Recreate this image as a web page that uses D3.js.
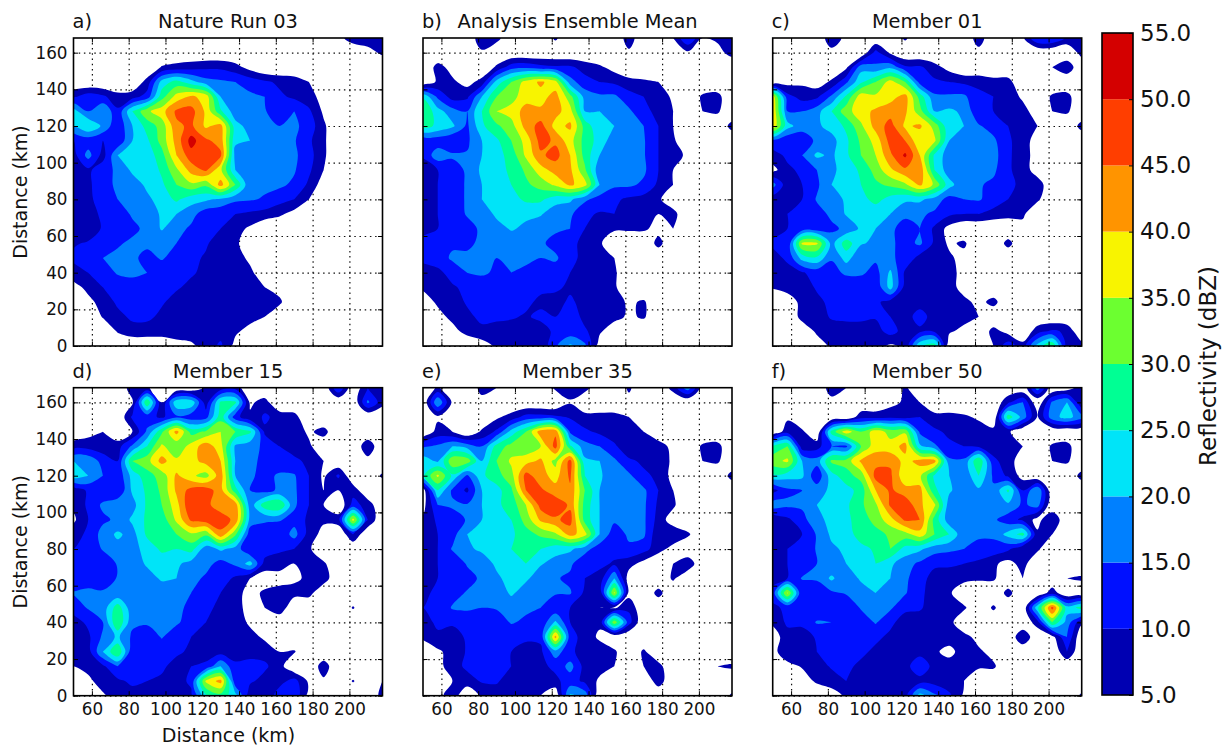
<!DOCTYPE html>
<html>
<head>
<meta charset="utf-8">
<script src="https://cdn.jsdelivr.net/npm/d3@7"></script>
<style>
  body { margin: 0; background: #fff; }
  text { font-family: "DejaVu Sans", sans-serif; fill: #111; }
</style>
</head>
<body>
<svg id="graphic" width="1228" height="749"></svg>
<script>
// reflectivity, every 8 km, rows run from y=168 down to y=0,
// columns from x=50 to x=218, cut off rows are zero on the right
const panelA = [
[0,0,0,0,0,0,0,0,0,0,0,0,0,0,0,0,0,0,3,8,8,8],
[0,0,0,0,0,0,0,0,0,0,0,0,0,0,0,0,0,0,0,0,3,6],
[0,0,0,0,0,0,5.5,7,8,9,9,7,3],
[0,0,0,0,0,7,22,27,22,17,16,15,13,11,9,8,5],
[9,13,11,7,8,12,28,37,41,38,20,17,16,15,11,9,7,3],
[22,15,20,11,25,34,38,46,47,39,26,17,16,15.5,11,15,11,4],
[20,25,19,11,20,27,32,44,46,39,42,22,18,16,15,16,13,6],
[10,12,10,11,20,24,32,42,52,46,43,21,20,16,16,15.5,11,6],
[8,17,8,20,22,22,28,40,48,47,46,18,17,16,16,16,12,6],
[6,9,13,16,21,21,26,34,42,46,36,20,17,16,16,15.5,11,5],
[6,9,13,16,17.5,21,24,30,34,31,42,30,15.5,16,16,14,9,2],
[6,9,12,15,17,19,22,26,22,21,19,16,15.5,14.5,12,10,5],
[6,8,11,13,15.5,16,21,20,17,12,11,10,9,8,6,3],
[8,7.5,10.5,12,14,16,20.5,17,14,11,10,7,4],
[9.5,10.5,12,14.5,15.8,16,16,15,12,10.5,8,6,2],
[11,11.5,15,16,16,13.5,15.5,13,11,9.5,8,7,4],
[8,10,12.5,15.5,16,15,12,11,10.5,9,8,8,6,2],
[3,6.5,10,12,13,12,11,10.5,9,8,8,8,7,5,3],
[0,3.5,7,11,11,11,10.5,8.5,8,8,8,8,8,8,6],
[0,0,5.5,8.5,11,11,9,8,8,8,8,8,7,5,1],
[0,0,0,5.5,8,8,8,7.5,7.5,8,8,6,3],
[0,0,0,0,0,0,0,3,4,7,11,3]
];
const panelB = [
[0,0,0,0,9,7,0,0,0,6,0,0,0,0,8,0,0,5,15,5,6,8],
[0,0,0,0,4,0,0,0,0,0,0,0,0,0,4,0,0,0,4,0,3,7],
[0,7,3,0,0,6,13,14,12,11,11,8,6,3],
[0,6,6,3,7,22,30,37,41,37,17,12,10,9,7,6,5],
[24,14,8,9,20,30,33,38,38,42,32,18,16,16,12,10,8,4,0,6,7],
[30,22,17,15,25,35,37,42,41,42,37,20,20,19,16,11,9,5,0,5,6],
[27,24,21,14,24,29,33,42,47,38,41,28,21,20,16,15,10,5,0,0,0,7],
[11,12,10,14,20,24,30,37,47,44,37,28,23,17,19,15.5,10,6],
[11,18,16,15.5,20,23,27,36,44,47,40,28,20,15.5,15.5,15.5,10,7,4],
[6,10,12,16,21,23,26,31,38,42,41,31,16,16,16,16,10,5],
[6,10,13,15.5,20,22,25,29,32,36,41,37,20,16,16,14,9,5],
[6,10,13,15.5,20,21,23,26,26,22,21,16,13,11,9,8,6,1],
[6,10,12,15.5,17,21,22,21,20.5,17,16,11,9.5,10,9,8,5,7],
[9,10,12,13,16,18,20.5,19,17,16,15,10,7,6,6,6,3,5],
[11,11,14,14,16,16,17,16,16,13,11,9,6,0,0,0,7],
[11,12,16,16,16,15,16,16,15,16,11,9,7,5],
[8,9,11.5,15,16,14,15,14,13,12,10,8,8,6],
[6,8,9.5,11,11,11,11,11,11,11,9,8,8,6],
[2,6,8,10.5,11,11,11,11,9,8,11,8,8,7.5,4,5.8],
[0,3,6.5,9,11,11,10.5,9.5,11,10,14,8,8,7,4,5.8],
[0,0,3,7,9,8,8,8,8,11,12,11,6,1,0,0,0,0,0,0,0,5],
[0,0,0,0,2,6,7,7,6,14,21,16,2,0,0,0,0,0,0,0,0,5]
];
const panelC = [
[0,0,0,0,9,3,0,0,0,6,0,0,0,0,8,0,0,4,15,15,9,8],
[0,0,0,0,3,0,0,12,4,0,0,0,0,0,3,0,0,0,0,0,0,7],
[0,5,0,0,0,4,18,16,19,11,11,7,3,0,0,0,0,0,0,5,9],
[0,3,4,2,6,14,24,30,37,30,13,11,10,9,9,7,7],
[38,12,8,9,16,26,38,36,38,42,28,16,16,16,11,10,8,4,0,6,7],
[40,15,15,18,25,33,38,41,43,41,32,20,21,19,11,10,9,7,2,5,6],
[39,22,17,19,22,26,34,42,47,39,41,33,21,20,15.5,13,10,7,5,0,0,7],
[13,11,12,16,18,24,31,37,47,45,36,36,20,16,19,16,11,7,3],
[8,11,15,21,19,24,30,35,44,51,40,24,17,16,16,17,11,7,3],
[3,9,11,15,19,22,26,32,39,44,44,25,17,16,16,16,11,7,3],
[17,7,10,14,20,21,25,29,31,34,41,34,22,16,15.5,14,11,9,7,2],
[7,9,10,15.5,17,21,23,27,23,21,21,18,13,15,15.5,13,10,8,6],
[6,10,11,13,16,20.5,22,21,20,16,16,14,11,10,10,8,7,6],
[8,10,12,12,14,16,21,20,16,13,15,9,3,0,0,0,0,3],
[11,10,36,36,18,28,20.5,19,16,13,16,9,4,6,0,0,7],
[8,11,22,24,15.5,22,16,16,15.5,14,8,8,6,3],
[7,8,9.5,12,13,16,16,13,21,9,8,8,7,3],
[5.5,7,8,10.5,11,11,11,11,22,8,8,8,8,2],
[0,2,6.5,9,11,11,11,11,8,9,8,8,8,7,3,7],
[0,0,7,8,10.5,11,11,10.5,10,8,12,8,8,7.5,5],
[0,0,1,6,8,8,8,8,12,8,9,9,6,3,0,7,3,0,8,11,9],
[0,0,0,2,6,7,7,7,4,6,24,28,0,0,0,5,13,7,22,30,7,7]
];
const panelD = [
[0,0,0,0,8,6,0,0,0,6,7,8,0,0,5,0,0,0,15,0,10,8],
[0,0,0,0,4,30,5,24,24,7,26,26,4,7,0,0,0,0,0,0,16,7],
[0,0,0,0,11,12,9,14,12,13,28,12,6,11,8,7],
[0,3,5,0,5,16,29,42,28,31,35,30,26,9,8,8,4,7],
[8,8,7,8,16,25,36,31,37,43,37,19,17,14,10,8,6,1,0,0,9],
[20,19,13,10,30,33,42,36,38,42,40,20,16,14,11,11,9,5,0,0,3],
[23,20,15,11,22,28,32,41,36,33,43,20,16,13,16,15.5,10,4,11,0,0,6],
[6,11,11,10,21,26,31,41,47,48,42,27,15,13,16,16,10,5,5,8],
[6,11,16,19,18,26,30,38,50,46,43,43,17,28,30,16,10,5,0,12,8],
[4,10,14,16,21,26,27,36,46,48,47,44,18,16,15.5,13,9,6,8,37,10],
[8,11,17,21,18,26,27,30,34,31,44,31,12,11,11,17,8,3,0,10],
[10,11,15.5,18,18,22,26,25,27,17,21,18,10,13,11,10,6],
[10,12,11,15.5,16,21,22,21,18,17,13,16,22,8,7,5,6,6],
[11,13,11,15.5,16,17,21,20,17,14,13,9,5,2,3,4,6,8],
[15.5,16,16,16,16,16,16,16,15,12,10,7,3,6,7,7,7],
[12,15.5,17,28,16,16,16,16,14,11,9,7,3,5,9,0,0,0,0,5.5],
[8,11,15,30,16,16,16,16,12,10,9,8,4],
[8,9,16,21,14,11,15.5,11,10,8,9,8,7,4],
[8,8,20,30,11,11,11,11,9,8,8,8,8,8,5,5.5],
[5,7,9,15,11,15,11,8,10,11,20,11,12,11,7,0,0,8],
[0,3.5,8,9,11,10,9,8,11,36,42,11,11,8,8,12,4,4,0,5.5,0,5],
[0,0,4,8,8,5,8,8,9,24,28,22,6,5,13,14,3,5,0,0,0,7]
];
const panelE = [
[0,6,0,0,7,5,0,0,0,6,7,7,0,0,6,0,0,7,18,2],
[0,20,4,0,3,0,0,0,0,0,4.5,0,0,0,3,0,0,0,0,0,2],
[0,4,0,0,0,4,7,12,12,11,9.5,7,7,7,5],
[0,7,5,0,6,11,22,30,43,44,14,11,9,7,6,5],
[14,16,20,18,15,27,32,31,35,47,26,17,15,11,6,7,8,3,0,6,7],
[23,19,34,33,20,30,36,38,41,33,47,21,20,16,11,9,8,4,0,5,6],
[24,36,24,14,24,28,33,47,42,38,46,25,21,16,16,11,9,3,0,0,0,7],
[2,25,14,9,20,23,29,45,46,42,44,30,20,16,19,16,10,5],
[3,15,16,15.5,20,24,27,35,47,49,44,28,20,16,16,16,9,6],
[6,11,12,15.5,20,22,25,32,41,44,47,28,20,16,16,16,8,2],
[6,10,13,20,21,21,24,28,31,34,42,37,20,12,16,16,6,9,6],
[6,10,15.5,19,21,21,25,27,25,22,21,17,12,13,14,12,7,3],
[6,10,11,15.5,17,21,23,25,20.5,18,16,11,12,9,7,3,0,5,9],
[8,10,10,13,16,19,22,21,17,15.5,14,10,7,20,2,0,0,6],
[9,11,13,15.5,16,16,21,17,16,15.5,15.5,9,6,36,3,0,7],
[10,11,15.5,16,15,15.5,16,16,15,11,10,8,5,4,9],
[8,11,11,11,11,12,15.5,14,11,21,10,6,6,34,12],
[6,9,7,11,11,11,11,11,11,42,12,8,4],
[1,4,7,10.5,11,11,10,8,9,18,11,8,8,6,0,6],
[0,3,8,11,15,11,10,8,9,11,17,8,7,5,0,5,7,0,4,0,5,6],
[0,0,5,8,10.5,10.5,8,8,8,9,12,9,4,0,0,0,8],
[0,3,8,0,6,8,7,7,5,0,21,18,0,0,0,0,0,0,0,0,0,6]
];
const panelF = [
[0,0,0,0,8,5,0,0,0,6,0,0,0,0,4,0,0,0,18,0,2,8],
[0,0,0,0,3,0,0,0,3,6,5,0,0,0,3,0,9,15,0,16,20,5],
[0,4,0,0,0,0,8,8,9,8,10,7,7,6,4,0,28,18,4.5,18,22,17],
[0,8,6,0,27,38,30,38,33,34,14,11,9,8,8,7,6,0,4],
[26,30,7,8,15,14,30,38,37,42,21,16,11,10,9,8,7,5,0,6,7],
[33,36,20,17,31,32,41,43,44,38,42,42,16,16,30,11,8,1,0,5,6],
[24,22,21,11,23,28,32,47,46,36,36,24,20,16,25,14,9,3,0,0,0,7],
[8,14,15,18,21,23,27,40,46,42,42,26,21,16,19,16,26,10,20],
[18,16,16,20,21,24,29,34,46,49,41,36,17,16,16,16,19,14,17],
[5,9,13,19,21,24,27,32,38,46,45,28,17,16,16,16,12,9,3,10],
[7,8,10,15.5,21,22,28,28,31,33,38,30,25,16,16,16,22,27,6,5],
[7,10,11,15.5,19,21,23,26,30,23,21,17,16,15,13,13,11,5,6],
[6,10,11,15,16,20,22,25,21,17,14,11,11,10,9,6,3,7],
[8,10,15.5,15.8,21,16,21,22,20,16,12,8,7,7,6,6,0,5,0,0,5,6],
[12,36,10,11,14,15.5,17,20,17,15.5,11,8,6,0,0,0,7,0,0,8],
[9,11,13,11,13,11,15.5,16,15.8,11,10.5,8,6,6,0,6,0,0,24,47,22,27],
[6,11,11,15.5,15,11,12,15.5,11,8,8,8,7,0,0,0,0,0,8,30,18,6],
[2,8,8,10.5,11,11,11,11,9,8,8,8,8,7,3,0,0,10,0,3,15],
[3,9,6,10,11,11,11,9,8,8,8,6,3,8,6,3,0,0,0,0,10],
[0,3,5.5,8,10.5,11,9,8,10,8,14,8,8,10,6,6],
[0,0,2,6,8,10,8,8,9,8,8,8,7,5],
[0,0,0,0,2,6,7,7,7,8,22,16,11,4,0,0,0,0,0,0,0,6]
];

const panelGrids = [panelA, panelB, panelC, panelD, panelE, panelF];
const panelTitles = ['Nature Run 03', 'Analysis Ensemble Mean', 'Member 01', 'Member 15', 'Member 35', 'Member 50'];
const panelLetters = ['a)', 'b)', 'c)', 'd)', 'e)', 'f)'];

const levels = [5, 10, 15, 20, 25, 30, 35, 40, 45, 50];
const bandColors = ['#0000b2', '#0010ff', '#0080ff', '#00e4f8', '#00ff94', '#6cff30', '#f8f400', '#ff9400', '#ff3e00', '#d40000'];
const barTicks = [5, 10, 15, 20, 25, 30, 35, 40, 45, 50, 55];
const xTicks = [60, 80, 100, 120, 140, 160, 180, 200];
const yTicks = [0, 20, 40, 60, 80, 100, 120, 140, 160];

const xStart = 50, xEnd = 218, yEnd = 168, gridStep = 8, gridSize = 22;

const panelLefts = [73.5, 423, 772.7];
const panelTops = [38, 387.7];
const panelW = 309, panelH = 308;

let svg = d3.select('#graphic');

let contours = d3.contours().size([gridSize, gridSize]).thresholds(levels);

function render_panel(grid, i) {
    let col = i % 3, row = Math.floor(i / 3);

    let xScale = d3.scaleLinear().domain([xStart, xEnd]).range([0, panelW]);
    let yScale = d3.scaleLinear().domain([0, yEnd]).range([panelH, 0]);

    let g = svg.append('g')
        .attr('transform', `translate(${panelLefts[col]},${panelTops[row]})`);

    // dotted grid sits under the filled contours
    g.append('g')
        .attr('transform', `translate(0,${panelH})`)
        .call(d3.axisBottom(xScale).tickValues(xTicks).tickSize(-panelH).tickFormat(''))
        .call(a => a.select('.domain').remove());
    g.append('g')
        .call(d3.axisLeft(yScale).tickValues(yTicks).tickSize(-panelW).tickFormat(''))
        .call(a => a.select('.domain').remove());
    g.selectAll('.tick line')
        .attr('stroke', '#111')
        .attr('stroke-width', 1.2)
        .attr('stroke-dasharray', '1.5,3.7');

    let clipId = 'clip' + i;
    g.append('clipPath').attr('id', clipId)
        .append('rect').attr('width', panelW).attr('height', panelH);

    let values = [];
    for (let r = 0; r < gridSize; r++) {
        for (let c = 0; c < gridSize; c++) {
            values.push(grid[r][c] || 0);
        }
    }

    // contour coords have grid nodes at n + 0.5
    let ringLine = d3.line()
        .x(p => xScale(xStart + (p[0] - 0.5) * gridStep))
        .y(p => yScale(yEnd - (p[1] - 0.5) * gridStep))
        .curve(d3.curveCatmullRomClosed.alpha(0.5));

    g.append('g')
        .attr('clip-path', `url(#${clipId})`)
        .selectAll('path')
        .data(contours(values))
        .enter()
        .append('path')
        .attr('fill', (d, k) => bandColors[k])
        .attr('d', d => d.coordinates
            .map(poly => poly.map(ring => ringLine(ring.slice(0, -1))).join(''))
            .join(''));

    // inward ticks on all four sides
    let bottom = d3.axisBottom(xScale).tickValues(xTicks).tickSize(-4.5).tickPadding(7).tickSizeOuter(0);
    let left = d3.axisLeft(yScale).tickValues(yTicks).tickSize(-4.5).tickPadding(6).tickSizeOuter(0);
    if (row == 0) bottom.tickFormat('');
    if (col != 0) left.tickFormat('');

    g.append('g').attr('class', 'ax').attr('transform', `translate(0,${panelH})`).call(bottom);
    g.append('g').attr('class', 'ax').call(left);
    g.append('g').attr('class', 'ax').call(d3.axisTop(xScale).tickValues(xTicks).tickSize(-4.5).tickFormat('').tickSizeOuter(0));
    g.append('g').attr('class', 'ax').attr('transform', `translate(${panelW},0)`)
        .call(d3.axisRight(yScale).tickValues(yTicks).tickSize(-4.5).tickFormat('').tickSizeOuter(0));

    g.selectAll('.ax .domain').remove();
    g.selectAll('.ax .tick line').attr('stroke', '#000').attr('stroke-width', 1);
    g.selectAll('.ax text').attr('font-size', 16.8).attr('font-family', '"DejaVu Sans", sans-serif').attr('fill', '#111');

    g.append('rect')
        .attr('width', panelW)
        .attr('height', panelH)
        .attr('fill', 'none')
        .attr('stroke', '#000')
        .attr('stroke-width', 1.6);

    g.append('text')
        .attr('x', panelW / 2)
        .attr('y', -10)
        .attr('text-anchor', 'middle')
        .attr('font-size', 19.4)
        .text(panelTitles[i]);

    g.append('text')
        .attr('x', -1)
        .attr('y', -10)
        .attr('font-size', 19.4)
        .text(panelLetters[i]);

    if (col == 0) {
        g.append('text')
            .attr('transform', `translate(-53,${panelH / 2}) rotate(-90)`)
            .attr('dy', '0.35em')
            .attr('text-anchor', 'middle')
            .attr('font-size', 19)
            .text('Distance (km)');
    }
    if (row == 1 && col == 0) {
        g.append('text')
            .attr('x', panelW / 2 + 0.5)
            .attr('y', panelH + 46)
            .attr('text-anchor', 'middle')
            .attr('font-size', 19)
            .text('Distance (km)');
    }
}

panelGrids.forEach(render_panel);

function render_colorbar() {
    let barX = 1102, barW = 31;
    let barScale = d3.scaleLinear().domain([5, 55]).range([695, 33]);

    svg.append('g')
        .selectAll('rect')
        .data(levels)
        .enter()
        .append('rect')
        .attr('x', barX)
        .attr('y', d => barScale(d + 5))
        .attr('width', barW)
        .attr('height', d => barScale(d) - barScale(d + 5))
        .attr('fill', (d, k) => bandColors[k]);

    let axis = svg.append('g')
        .attr('class', 'ax')
        .attr('transform', `translate(${barX + barW},0)`)
        .call(d3.axisRight(barScale).tickValues(barTicks).tickSize(-4).tickPadding(7).tickFormat(d3.format('.1f')));
    axis.select('.domain').remove();
    axis.selectAll('.tick line').attr('stroke', '#000');
    axis.selectAll('text').attr('font-size', 23).attr('font-family', '"DejaVu Sans", sans-serif').attr('fill', '#111');

    svg.append('rect')
        .attr('x', barX)
        .attr('y', 33)
        .attr('width', barW)
        .attr('height', 662)
        .attr('fill', 'none')
        .attr('stroke', '#000')
        .attr('stroke-width', 1.6);

    svg.append('text')
        .attr('transform', 'translate(1208,366) rotate(-90)')
        .attr('dy', '0.35em')
        .attr('text-anchor', 'middle')
        .attr('font-size', 23)
        .text('Reflectivity (dBZ)');
}

render_colorbar();
</script>
</body>
</html>
